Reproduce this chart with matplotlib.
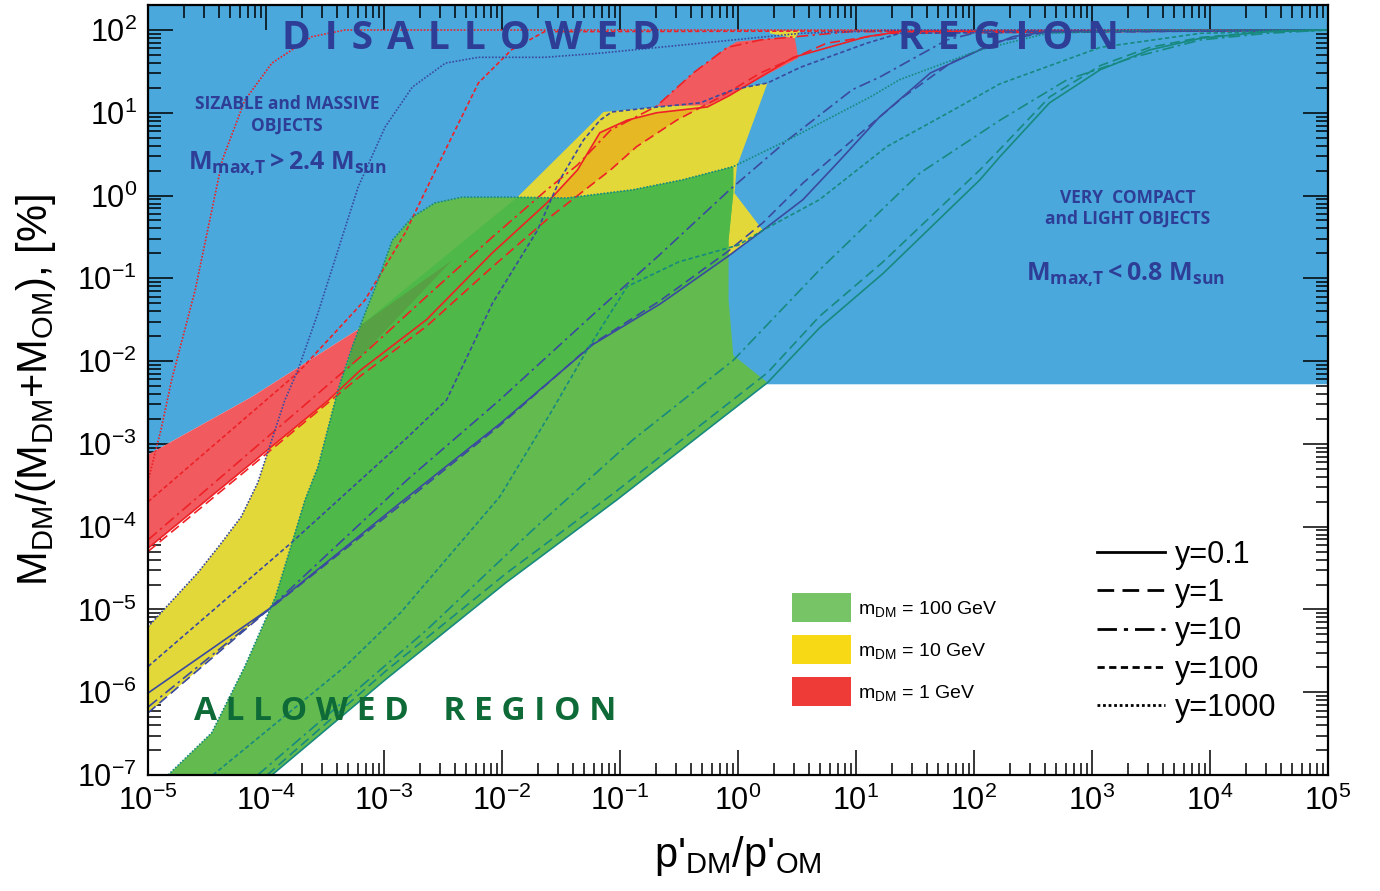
import matplotlib
matplotlib.use("Agg")
import matplotlib.pyplot as plt
import numpy as np
from matplotlib.patches import Polygon, Patch
from matplotlib.lines import Line2D
from matplotlib.ticker import LogLocator, NullFormatter

plt.rcParams['font.family'] = ['Liberation Sans', 'DejaVu Sans']
plt.rcParams['mathtext.fontset'] = 'custom'
plt.rcParams['mathtext.rm'] = 'Liberation Sans'
plt.rcParams['mathtext.it'] = 'Liberation Sans:italic'
plt.rcParams['mathtext.bf'] = 'Open Sans:bold'

# all values are log10(rho'_DM/rho'_OM) and log10(mass fraction in %)
# m_DM = 1 GeV curves (red)
red_dot_lx = [-5.0, -4.97, -4.89, -4.80, -4.60, -4.37, -4.18, -3.95, -3.61, -3.33, 5.0]
red_dot_ly = [-3.45, -3.28, -2.83, -2.23, -1.14, 0.43, 1.15, 1.60, 1.92, 2.0, 2.0]
red_sdash_lx = [-5.0, -3.73, -3.16, -2.82, -2.48, -2.20, -1.92, -1.64, 5.0]
red_sdash_ly = [-3.70, -2.14, -1.26, -0.45, 0.55, 1.36, 1.76, 1.98, 2.0]
red_dd_lx = [-5.0, -3.20, -2.64, -2.08, -1.62, -1.36, -1.08, -0.69, -0.38, -0.09, 0.19, 0.95, 5.0]
red_dd_ly = [-4.16, -1.95, -1.22, -0.50, 0.07, 0.37, 0.79, 1.08, 1.48, 1.79, 1.88, 1.98, 2.0]
red_long_lx = [-5.0, -3.20, -2.64, -2.08, -1.62, -1.08, -0.86, -0.52, -0.15, 0.19, 0.75, 1.29, 5.0]
red_long_ly = [-4.30, -2.18, -1.58, -0.86, -0.29, 0.31, 0.59, 0.91, 1.19, 1.48, 1.84, 1.96, 2.0]
red_solid_lx = [-5.0, -3.95, -3.47, -3.20, -2.64, -2.08, -1.62, -1.36, -1.17, -0.94, -0.69, -0.26,
                -0.07, 0.47, 1.09, 1.37, 5.0]
red_solid_ly = [-4.26, -3.03, -2.47, -2.11, -1.50, -0.69, -0.09, 0.31, 0.76, 0.91, 1.0, 1.07,
                1.21, 1.67, 1.92, 1.98, 2.0]

# m_DM = 10 GeV curves (blue)
blue_dot_lx = [-5.0, -4.58, -4.39, -4.21, -4.07, -3.96, -3.84, -3.73, -3.56, -3.22, -2.99, -2.76,
               -2.48, -2.20, -1.64, -1.17, -0.32, 0.53, 1.37, 5.0]
blue_dot_ly = [-5.21, -4.56, -4.22, -3.88, -3.47, -2.99, -2.47, -2.11, -1.42, 0.10, 0.83, 1.31,
               1.60, 1.67, 1.67, 1.72, 1.84, 1.96, 2.0, 2.0]
blue_sdash_lx = [-5.0, -3.79, -2.80, -2.47, -2.08, -1.70, -1.51, -1.31, -1.17, -1.07, -0.75, -0.32,
                 -0.04, 0.25, 0.53, 1.09, 1.37, 5.0]
blue_sdash_ly = [-5.69, -4.20, -2.92, -2.47, -1.30, -0.42, 0.19, 0.67, 0.91, 1.01, 1.06, 1.12,
                 1.28, 1.36, 1.55, 1.84, 1.96, 2.0]
blue_dd_lx = [-5.0, -3.98, -2.80, -2.02, -1.23, -0.66, -0.07, 0.42, 0.97, 1.20, 1.77, 2.05, 5.0]
blue_dd_ly = [-6.18, -5.0, -3.43, -2.47, -1.44, -0.71, 0.07, 0.67, 1.28, 1.43, 1.88, 1.98, 2.0]
blue_long_lx = [-5.0, -4.01, -2.86, -2.02, -1.23, -0.66, -0.09, 0.21, 0.55, 0.97, 1.40, 1.80, 2.20,
                2.60, 5.0]
blue_long_ly = [-6.25, -5.04, -3.74, -2.78, -1.79, -1.27, -0.68, -0.33, 0.15, 0.67, 1.19, 1.60, 1.86,
                1.97, 2.0]
blue_solid_lx = [-5.0, -3.98, -2.86, -2.02, -1.23, -0.66, -0.09, 0.21, 0.55, 0.84, 1.20, 1.63, 2.05,
                 2.33, 2.62, 5.0]
blue_solid_ly = [-6.01, -5.0, -3.71, -2.76, -1.80, -1.31, -0.74, -0.42, -0.05, 0.39, 0.95, 1.48, 1.76,
                 1.92, 1.98, 2.0]

# m_DM = 100 GeV curves (teal)
teal_dot_lx = [-4.83, -4.46, -4.18, -3.92, -3.78, -3.67, -3.56, -3.39, -3.27, -3.16, -3.05, -2.93,
               -2.76, -2.57, -2.34, -1.92, -1.45, -0.89, -0.47, -0.04, 0.42, 1.12, 1.37, 2.05, 2.62,
               3.5, 5.0]
teal_dot_ly = [-7.0, -6.49, -5.69, -4.85, -4.20, -3.68, -3.28, -2.35, -1.83, -1.42, -1.02, -0.54,
               -0.26, -0.09, -0.02, -0.02, -0.03, 0.07, 0.19, 0.35, 0.67, 1.19, 1.40, 1.76, 1.96,
               2.0, 2.0]
teal_sdash_lx = [-4.45, -3.33, -2.86, -2.02, -1.59, -1.28, -0.94, -0.50, 0.0, 0.21, 0.69, 1.26, 1.82,
                 2.22, 3.07, 3.92, 5.0]
teal_sdash_ly = [-7.0, -5.69, -5.04, -3.64, -2.63, -1.87, -1.10, -0.80, -0.60, -0.42, -0.05, 0.59, 1.03,
                 1.35, 1.79, 1.96, 2.0]
teal_dd_lx = [-4.07, -2.64, -1.74, -0.89, -0.04, 0.69, 1.54, 2.22, 2.79, 3.35, 3.92, 4.48, 5.0]
teal_dd_ly = [-7.0, -5.25, -4.04, -2.95, -1.99, -0.90, 0.27, 0.91, 1.40, 1.67, 1.88, 1.96, 2.0]
teal_long_lx = [-3.99, -2.99, -1.97, -1.03, 0.25, 0.69, 1.23, 2.05, 2.22, 2.64, 3.07, 3.49, 3.92, 4.48, 5.0]
teal_long_ly = [-7.0, -5.75, -4.57, -3.57, -2.14, -1.46, -0.80, 0.31, 0.56, 1.19, 1.57, 1.79, 1.91, 1.98, 2.0]
teal_solid_lx = [-3.95, -2.99, -1.97, -1.03, 0.25, 0.69, 1.23, 2.05, 2.22, 2.64, 3.07, 3.49, 3.92, 4.48, 5.0]
teal_solid_ly = [-7.0, -5.85, -4.68, -3.68, -2.26, -1.60, -0.94, 0.19, 0.47, 1.12, 1.52, 1.76, 1.90, 1.98, 2.0]

# band boundaries that are not one of the curves
green_right_lx = [-0.04, -0.08, -0.08, -0.04]
green_right_ly = [0.03, -0.54, -1.26, -1.93]
yellow_edge_lx = [-3.19, -1.87, -1.14]
yellow_edge_ly = [-1.56, -0.02, 1.01]
yellow_right_lx = [-0.01, -0.03, 0.21]
yellow_right_ly = [0.35, 0.03, -0.42]
red_top_lx = [-5.0, -4.13, -3.20, -2.42]
red_top_ly = [-3.13, -2.44, -1.60, -0.78]
red_up_lx = [-0.69, -0.38, -0.09, -0.01, 0.48, 0.51, 0.19, -0.07, -0.26]
red_up_ly = [1.08, 1.48, 1.79, 1.86, 1.92, 1.66, 1.42, 1.21, 1.09]
yellow_cap_lx = [0.27, 0.53, 0.48, 0.27]
yellow_cap_ly = [1.99, 1.99, 1.90, 1.96]
dark_lx = [-3.19, -2.42, -3.31, -3.27]
dark_ly = [-1.56, -0.78, -2.11, -1.83]
compact_floor = -2.28
y_top = 2.302

c_blue_bg = '#4aa8dc'
c_green = '#63bb4f'
c_green_mid = '#4eb848'
c_green_dark = '#57a043'
c_yellow = '#e3d83a'
c_orange = '#e6b924'
c_red = '#f15b60'
c_red_line = '#ee2126'
c_blue_line = '#3a4a9f'
c_teal_line = '#17897f'
c_text_blue = '#2e3d96'


def pts(lx, ly):
    return np.column_stack([10.0 ** np.asarray(lx, float), 10.0 ** np.asarray(ly, float)])


def spaced(word):
    return (" \u200a").join(word)


fig = plt.figure(figsize=(13.8, 8.91), dpi=100)
ax = fig.add_axes([148 / 1380, 116 / 891, 1180 / 1380, 770 / 891])
ax.set_xscale('log')
ax.set_yscale('log')
ax.set_xlim(1e-5, 1e5)
ax.set_ylim(1e-7, 10 ** y_top)

# disallowed region
blue_lx = [-5.0, 5.0, 5.0, 0.25, teal_solid_lx[4]] + red_top_lx[2::-1]
blue_ly = [y_top, y_top, compact_floor, compact_floor, compact_floor] + red_top_ly[2::-1]
ax.add_patch(Polygon(pts(blue_lx, blue_ly), closed=True, fc=c_blue_bg, ec='none', zorder=1))

# yellow band (m_DM = 10 GeV)
yl_lx = (blue_dot_lx[:6] + yellow_edge_lx + blue_sdash_lx[10:14] + yellow_right_lx
         + blue_solid_lx[6:1:-1] + [blue_long_lx[1], blue_long_lx[0]])
yl_ly = (blue_dot_ly[:6] + yellow_edge_ly + blue_sdash_ly[10:14] + yellow_right_ly
         + blue_solid_ly[6:1:-1] + [blue_long_ly[1], blue_long_ly[0]])
yellow_patch = Polygon(pts(yl_lx, yl_ly), closed=True, fc=c_yellow, ec='none', zorder=2)
ax.add_patch(yellow_patch)

# red band overlapping the yellow one
or_lx = red_solid_lx[6:12] + red_long_lx[8:3:-1]
or_ly = red_solid_ly[6:12] + red_long_ly[8:3:-1]
orange = Polygon(pts(or_lx, or_ly), closed=True, fc=c_orange, ec='none', zorder=2.5)
ax.add_patch(orange)
orange.set_clip_path(yellow_patch)

# red band (m_DM = 1 GeV)
rl_lx = red_top_lx + red_solid_lx[3::-1]
rl_ly = red_top_ly + red_solid_ly[3::-1]
ax.add_patch(Polygon(pts(rl_lx, rl_ly), closed=True, fc=c_red, ec='none', zorder=3))
ax.add_patch(Polygon(pts(red_up_lx, red_up_ly), closed=True, fc=c_red, ec='none', zorder=3))
ax.add_patch(Polygon(pts(yellow_cap_lx, yellow_cap_ly), closed=True, fc=c_yellow, ec='none', zorder=3))

# green band (m_DM = 100 GeV)
gr_lx = teal_dot_lx[:20] + green_right_lx + teal_solid_lx[4::-1]
gr_ly = teal_dot_ly[:20] + green_right_ly + teal_solid_ly[4::-1]
green_patch = Polygon(pts(gr_lx, gr_ly), closed=True, fc=c_green, ec='none', zorder=4)
ax.add_patch(green_patch)
mid = Polygon(pts(yl_lx, yl_ly), closed=True, fc=c_green_mid, ec='none', zorder=4.2)
ax.add_patch(mid)
mid.set_clip_path(green_patch)
ax.add_patch(Polygon(pts(dark_lx, dark_ly), closed=True, fc=c_green_dark, ec='none', zorder=4.4))

# curves
styles = {
    'solid': '-',
    'long': (0, (6, 3)),
    'dd': (0, (7, 2.5, 1.5, 2.5)),
    'sdash': (0, (2.6, 1.6)),
    'dot': (0, (1, 1)),
}
curves = [
    (red_solid_lx, red_solid_ly, c_red_line, 'solid'),
    (red_long_lx, red_long_ly, c_red_line, 'long'),
    (red_dd_lx, red_dd_ly, c_red_line, 'dd'),
    (red_sdash_lx, red_sdash_ly, c_red_line, 'sdash'),
    (red_dot_lx, red_dot_ly, c_red_line, 'dot'),
    (blue_solid_lx, blue_solid_ly, c_blue_line, 'solid'),
    (blue_long_lx, blue_long_ly, c_blue_line, 'long'),
    (blue_dd_lx, blue_dd_ly, c_blue_line, 'dd'),
    (blue_sdash_lx, blue_sdash_ly, c_blue_line, 'sdash'),
    (blue_dot_lx, blue_dot_ly, c_blue_line, 'dot'),
    (teal_solid_lx, teal_solid_ly, c_teal_line, 'solid'),
    (teal_long_lx, teal_long_ly, c_teal_line, 'long'),
    (teal_dd_lx, teal_dd_ly, c_teal_line, 'dd'),
    (teal_sdash_lx, teal_sdash_ly, c_teal_line, 'sdash'),
    (teal_dot_lx, teal_dot_ly, c_teal_line, 'dot'),
]
for lx, ly, col, st in curves:
    xy = pts(lx, ly)
    ax.plot(xy[:, 0], xy[:, 1], color=col, lw=1.2, ls=styles[st], zorder=6)

# axes styling
for ax_ in (ax.xaxis, ax.yaxis):
    ax_.set_major_locator(LogLocator(base=10, numticks=20))
    ax_.set_minor_locator(LogLocator(base=10, subs=np.arange(2, 10), numticks=20))
    ax_.set_minor_formatter(NullFormatter())
ax.tick_params(which='both', direction='in', top=True, right=True, width=1.1, labelsize=22, pad=8)
ax.tick_params(which='major', length=18)
ax.tick_params(which='minor', length=9)
for s in ax.spines.values():
    s.set_linewidth(1.6)
    s.set_zorder(10)

ax.set_xlabel(r"p'$_{\rm DM}$/p'$_{\rm OM}$", fontsize=30, labelpad=12)
ax.set_ylabel(r"M$_{\rm DM}$/(M$_{\rm DM}$+M$_{\rm OM}$), [%]", fontsize=30, labelpad=14)

# region annotations
tb = dict(transform=ax.transAxes, ha='center', va='center', color=c_text_blue,
          family=['Open Sans', 'DejaVu Sans'], weight='bold', zorder=8)
ax.text(0.274, 0.957, spaced("DISALLOWED"), fontsize=28, **tb)
ax.text(0.729, 0.957, spaced("REGION"), fontsize=28, **tb)
ax.text(0.118, 0.857, "SIZABLE and MASSIVE\nOBJECTS", fontsize=12.5, linespacing=1.25, **tb)
ax.text(0.118, 0.793, r"$\mathbf{M_{max{,}T} > 2.4\ M_{sun}}$", fontsize=18, **tb)
ax.text(0.830, 0.736, "VERY  COMPACT\nand LIGHT OBJECTS", fontsize=12.5, linespacing=1.25, **tb)
ax.text(0.828, 0.649, r"$\mathbf{M_{max{,}T} < 0.8\ M_{sun}}$", fontsize=18, **tb)
ax.text(0.218, 0.082, "A L L O W E D    R E G I O N", transform=ax.transAxes, ha='center',
        va='center', color='#0e6a37', family='Open Sans', weight='bold', fontsize=24, zorder=8)

# legends
band_handles = [Patch(fc='#76c466', ec='none'), Patch(fc='#f7d916', ec='none'),
                Patch(fc='#ef3b38', ec='none')]
band_labels = [r"m$_{\rm DM}$ = 100 GeV", r"m$_{\rm DM}$ = 10 GeV", r"m$_{\rm DM}$ = 1 GeV"]
leg1 = ax.legend(band_handles, band_labels, loc='upper left', bbox_to_anchor=(0.546, 0.236),
                 frameon=False, fontsize=14, handlelength=3.0, handleheight=1.92,
                 labelspacing=0.67, handletextpad=0.4, borderpad=0, borderaxespad=0)
ax.add_artist(leg1)
line_handles = [Line2D([], [], color='k', lw=2, ls=styles[k])
                for k in ('solid', 'long', 'dd', 'sdash', 'dot')]
line_labels = ['y=0.1', 'y=1', 'y=10', 'y=100', 'y=1000']
leg2 = ax.legend(line_handles, line_labels, loc='upper left', bbox_to_anchor=(0.804, 0.3055),
                 frameon=False, fontsize=22, handlelength=2.22, labelspacing=0.27,
                 handletextpad=0.35, borderpad=0, borderaxespad=0)
leg1.set_zorder(9)
leg2.set_zorder(9)

fig.savefig('out.png', dpi=100)
